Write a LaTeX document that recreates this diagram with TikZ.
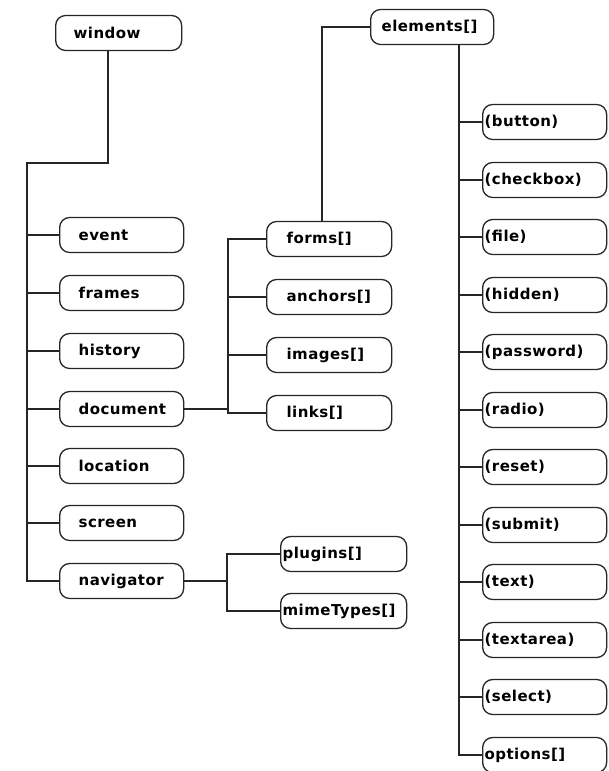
\documentclass[tikz,border=0pt]{standalone}
\usepackage{fontspec}
\newfontfamily\boxfont[LetterSpace=3]{DejaVu Sans}
\tikzset{
  box/.style={draw=black!85, line width=1.3pt, rounded corners=10pt, minimum height=35pt,
    anchor=west, align=left, inner ysep=0pt, font=\boxfont\bfseries\fontsize{15}{17}\selectfont},
  lbox/.style={box, inner xsep=19pt, text width=86pt},
  wbox/.style={box, inner xsep=18pt, text width=90pt},
  fbox/.style={box, inner xsep=20pt, text width=85pt},
  ebox/.style={box, inner xsep=11pt, text width=101pt},
  nbox/.style={box, inner xsep=2pt, text width=122pt},
  rbox/.style={box, inner xsep=2pt, text width=120pt},
  link/.style={draw=black!85, line width=1.3pt}
}
\begin{document}
\begin{tikzpicture}[x=1pt,y=-1pt]
\useasboundingbox[fill=white] (0,0) rectangle (608,771);
% left column
\node[wbox] (window) at (55,33) {window};
\node[lbox] (event) at (59,235) {event};
\node[lbox] (frames) at (59,293) {frames};
\node[lbox] (history) at (59,351) {history};
\node[lbox] (document) at (59,409) {document};
\node[lbox] (location) at (59,466) {location};
\node[lbox] (screen) at (59,523) {screen};
\node[lbox] (navigator) at (59,581) {navigator};
% middle column
\node[fbox] (forms) at (266,239) {forms[]};
\node[fbox] (anchors) at (266,297) {anchors[]};
\node[fbox] (images) at (266,355) {images[]};
\node[fbox] (links) at (266,413) {links[]};
\node[nbox] (plugins) at (280,554) {plugins[]};
\node[nbox] (mime) at (280,611) {mimeTypes[]};
% right column
\node[ebox] (elements) at (370,27) {elements[]};
\node[rbox] (button) at (482,122) {(button)};
\node[rbox] (checkbox) at (482,180) {(checkbox)};
\node[rbox] (file) at (482,237) {(file)};
\node[rbox] (hidden) at (482,295) {(hidden)};
\node[rbox] (password) at (482,352) {(password)};
\node[rbox] (radio) at (482,410) {(radio)};
\node[rbox] (reset) at (482,467) {(reset)};
\node[rbox] (submit) at (482,525) {(submit)};
\node[rbox] (text) at (482,582) {(text)};
\node[rbox] (textarea) at (482,640) {(textarea)};
\node[rbox] (select) at (482,697) {(select)};
\node[rbox] (options) at (482,755) {options[]};
% junction coordinates
\coordinate (wj) at (108,163);
\coordinate (lt) at (27,163);
\coordinate (cj) at (228,0);
\coordinate (fj) at (322,0);
\coordinate (rj) at (459,0);
\coordinate (nj) at (227,0);
% window tree
\draw[link] (wj|-window.south) -- (wj) -- (lt) |- (navigator.west);
\foreach \n in {event,frames,history,document,location,screen}
  \draw[link] (lt|-\n.west) -- (\n.west);
% document tree
\draw[link] (document.east) -- (cj|-document.east);
\draw[link] (forms.west) -| (cj|-links.west) -- (links.west);
\draw[link] (cj|-anchors.west) -- (anchors.west);
\draw[link] (cj|-images.west) -- (images.west);
% forms to elements
\draw[link] (fj|-forms.north) |- (elements.west);
% elements tree
\draw[link] (rj|-elements.south) |- (options.west);
\foreach \n in {button,checkbox,file,hidden,password,radio,reset,submit,text,textarea,select}
  \draw[link] (rj|-\n.west) -- (\n.west);
% navigator tree
\draw[link] (navigator.east) -- (nj|-navigator.east);
\draw[link] (plugins.west) -| (nj|-mime.west) -- (mime.west);
\end{tikzpicture}
\end{document}
